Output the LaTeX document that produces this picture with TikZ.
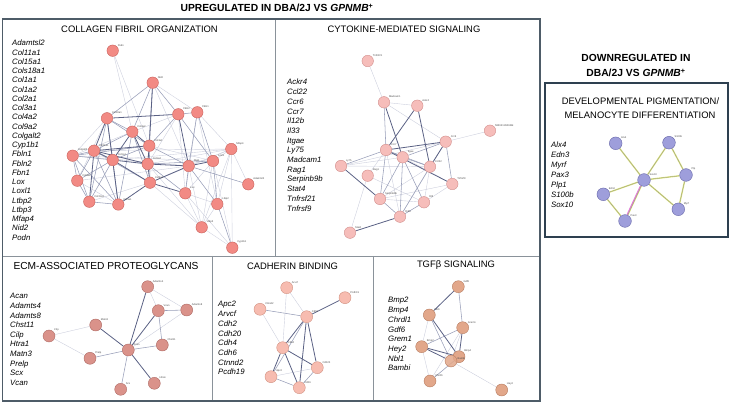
\documentclass[tikz,border=0pt]{standalone}
\usepackage{fontspec}
\setmainfont{Liberation Sans}
\usetikzlibrary{backgrounds}
\definecolor{framec}{HTML}{4E5C68}
\definecolor{divc}{HTML}{8A929A}
\definecolor{boxc}{HTML}{2E4050}
\definecolor{eL}{HTML}{CDCFDD}
\definecolor{eM}{HTML}{989EB8}
\definecolor{eD}{HTML}{5A6184}
\definecolor{cF}{HTML}{F28A84}\definecolor{cB}{HTML}{C8625C}
\definecolor{kF}{HTML}{F6BDBA}\definecolor{kB}{HTML}{D28E8C}
\definecolor{mF}{HTML}{DA928A}\definecolor{mB}{HTML}{AE6A64}
\definecolor{dF}{HTML}{F7BCB0}\definecolor{dB}{HTML}{D29282}
\definecolor{tF}{HTML}{E2A78A}\definecolor{tB}{HTML}{B67C60}
\definecolor{pF}{HTML}{9E9EDB}\definecolor{pB}{HTML}{6767A8}
\definecolor{yg}{HTML}{DCE37E}
\definecolor{pk}{HTML}{E27CD6}
\tikzset{
  frame/.style={draw=framec, line width=1.3pt},
  divider/.style={draw=divc, line width=0.9pt},
  dbox/.style={draw=boxc, line width=1.1pt},
  maintitle/.style={font=\fontsize{10.3}{12}\selectfont\bfseries, inner sep=0},
  ptitle/.style={font=\fontsize{9.4}{11}\selectfont, inner sep=0},
  gene/.style={font=\fontsize{7.8}{9}\selectfont\itshape, anchor=west, inner sep=0, text height=5.5pt, text depth=1.5pt},
  lab/.style={font=\fontsize{2.6}{3}\selectfont, text=black!70, inner sep=0.3pt},
  gn/.style={circle, inner sep=0, line width=0.4pt},
  cn/.style={gn, minimum size=11.5pt, fill=cF, draw=cB},
  kn/.style={gn, minimum size=11.5pt, fill=kF, draw=kB},
  mn/.style={gn, minimum size=12pt, fill=mF, draw=mB},
  dn/.style={gn, minimum size=12pt, fill=dF, draw=dB},
  tn/.style={gn, minimum size=12pt, fill=tF, draw=tB},
  pn/.style={gn, minimum size=12.7pt, fill=pF, draw=pB},
  eLs/.style={draw=eL, line width=0.4pt},
  eMs/.style={draw=eM, line width=0.55pt},
  eDs/.style={draw=eD, line width=0.8pt},
  ygs/.style={draw=yg, line width=1.4pt},
  pks/.style={draw=pk, line width=1.1pt},
  gls/.style={draw=black!45, line width=0.25pt},
}
\begin{document}
\begin{tikzpicture}[x=1pt, y=-1pt]
\useasboundingbox (0,0) rectangle (729,403);

% frames
\draw[divider] (2.5,256) -- (540,256);
\draw[divider] (275,19) -- (275,256);
\draw[divider] (212,256) -- (212,401);
\draw[divider] (373,256) -- (373,401);
\draw[frame] (2.5,19) rectangle (540,401);
\draw[dbox] (545,83) rectangle (728,237);

% titles
\node[maintitle] (mt) at (277,8) {UPREGULATED IN DBA/2J VS \textit{GPNMB}\textsuperscript{+}};
\node[maintitle] (dt1) at (636,58) {DOWNREGULATED IN};
\node[maintitle] (dt2) at (636,73) {DBA/2J VS \textit{GPNMB}\textsuperscript{+}};
\node[ptitle] (tcol) at (139.5,29) {COLLAGEN FIBRIL ORGANIZATION};
\node[ptitle] (tcyt) at (404,29) {CYTOKINE-MEDIATED SIGNALING};
\node[ptitle, font=\fontsize{10.2}{12}\selectfont] (tecm) at (106,266) {ECM-ASSOCIATED PROTEOGLYCANS};
\node[ptitle] (tcad) at (292.5,266) {CADHERIN BINDING};
\node[ptitle] (ttgf) at (456,265) {TGFβ SIGNALING};
\node[ptitle] (tdev1) at (640.5,101) {DEVELOPMENTAL PIGMENTATION/};
\node[ptitle] (tdev2) at (640,115) {MELANOCYTE DIFFERENTIATION};

% gene lists
\foreach \g [count=\i from 0] in {Adamtsl2,Col11a1,Col15a1,Cols18a1,Col1a1,Col1a2,Col2a1,Col3a1,Col4a2,Col9a2,Colgalt2,Cyp1b1,Fbln1,Fbln2,Fbn1,Lox,Loxl1,Ltbp2,Ltbp3,Mfap4,Nid2,Podn}
  \node[gene] (gc\i) at (12,{44+\i*9.24}) {\g};
\foreach \g [count=\i from 0] in {Ackr4,Ccl22,Ccr6,Ccr7,Il12b,Il33,Itgae,Ly75,Madcam1,Rag1,Serpinb9b,Stat4,Tnfrsf21,Tnfrsf9}
  \node[gene] (gk\i) at (287,{83+\i*9.7}) {\g};
\foreach \g [count=\i from 0] in {Acan,Adamts4,Adamts8,Chst11,Cilp,Htra1,Matn3,Prelp,Scx,Vcan}
  \node[gene] (gm\i) at (10,{297+\i*9.6}) {\g};
\foreach \g [count=\i from 0] in {Apc2,Arvcf,Cdh2,Cdh20,Cdh4,Cdh6,Ctnnd2,Pcdh19}
  \node[gene] (gd\i) at (218,{305+\i*9.7}) {\g};
\foreach \g [count=\i from 0] in {Bmp2,Bmp4,Chrdl1,Gdf6,Grem1,Hey2,Nbl1,Bambi}
  \node[gene] (gt\i) at (388,{301+\i*9.7}) {\g};
\foreach \g [count=\i from 0] in {Alx4,Edn3,Myrf,Pax3,Plp1,S100b,Sox10}
  \node[gene] (gp\i) at (551,{146+\i*10}) {\g};

% collagen network nodes
\node[cn, label={[lab]40:Podn}] (c1) at (112.7,50.7) {};
\node[cn, label={[lab]40:Nid2}] (c2) at (152.7,82.7) {};
\node[cn, label={[lab]40:Col18a1}] (c3) at (107,118.3) {};
\node[cn, label={[lab]40:Fbln2}] (c4) at (178.3,114.3) {};
\node[cn, label={[lab]40:Fbln1}] (c5) at (197.3,112.3) {};
\node[cn, label={[lab]40:Col4a2}] (c6) at (132.3,131.7) {};
\node[cn, label={[lab]40:Col3a1}] (c7) at (149.3,145.7) {};
\node[cn, label={[lab]40:Col11a1}] (c8) at (94,150.7) {};
\node[cn, label={[lab]40:Col1a1}] (c9) at (112.7,160) {};
\node[cn, label={[lab]40:Col1a2}] (c10) at (147.7,164) {};
\node[cn, label={[lab]40:Fbn1}] (c11) at (188.7,166) {};
\node[cn, label={[lab]40:Loxl1}] (c12) at (213,161) {};
\node[cn, label={[lab]40:Mfap4}] (c13) at (231.3,149) {};
\node[cn, label={[lab]40:Col2a1}] (c14) at (150,182.7) {};
\node[cn, label={[lab]40:Adamtsl2}] (c15) at (248.3,184.3) {};
\node[cn, label={[lab]40:Lox}] (c16) at (185.3,193.3) {};
\node[cn, label={[lab]40:Ltbp2}] (c17) at (217.3,204) {};
\node[cn, label={[lab]40:Ltbp3}] (c18) at (201.7,227.3) {};
\node[cn, label={[lab]40:Cyp1b1}] (c19) at (232.3,247.7) {};
\node[cn, label={[lab]40:Col9a2}] (c20) at (77.3,180.7) {};
\node[cn, label={[lab]40:Col15a1}] (c21) at (89.3,201.7) {};
\node[cn, label={[lab]40:Col5a1}] (c22) at (118.3,204.5) {};
\node[cn, label={[lab]40:Colgalt2}] (c23) at (72.7,155.7) {};

% cytokine nodes
\node[kn, label={[lab]40:Tnfrsf21}] (k1) at (367.7,61) {};
\node[kn, label={[lab]40:Madcam1}] (k2) at (384,102.3) {};
\node[kn, label={[lab]40:Ackr4}] (k3) at (417.3,105.7) {};
\node[kn, label={[lab]40:5830411N06Rik}] (k4) at (490,130.7) {};
\node[kn, label={[lab]40:Ccr6}] (k5) at (445.7,141.7) {};
\node[kn, label={[lab]40:Ccr7}] (k6) at (386,150) {};
\node[kn, label={[lab]40:Itgae}] (k7) at (402.7,157.3) {};
\node[kn, label={[lab]40:Ly75}] (k8) at (341,166) {};
\node[kn, label={[lab]40:Ccl22}] (k9) at (430,166.7) {};
\node[kn, label={[lab]40:Rag1}] (k10) at (367.7,175.7) {};
\node[kn, label={[lab]40:Tnfrsf9}] (k11) at (452.3,184) {};
\node[kn, label={[lab]40:Serpinb9b}] (k12) at (380,199) {};
\node[kn, label={[lab]40:Il33}] (k13) at (424,202.3) {};
\node[kn, label={[lab]40:Il12b}] (k14) at (400,216.7) {};
\node[kn, label={[lab]40:Stat4}] (k15) at (350,232.7) {};

% ECM nodes
\node[mn, label={[lab]40:Adamts4}] (m1) at (147.7,286.7) {};
\node[mn, label={[lab]40:Vcan}] (m2) at (158.3,310.7) {};
\node[mn, label={[lab]40:Adamts8}] (m3) at (186.7,310) {};
\node[mn, label={[lab]40:Matn3}] (m4) at (95.7,325) {};
\node[mn, label={[lab]40:Cilp}] (m5) at (49,336) {};
\node[mn, label={[lab]40:Chst11}] (m6) at (162.3,345) {};
\node[mn, label={[lab]40:Acan}] (m7) at (128.3,350) {};
\node[mn, label={[lab]40:Prelp}] (m8) at (90,358.3) {};
\node[mn, label={[lab]40:Htra1}] (m9) at (154.3,383.3) {};
\node[mn, label={[lab]40:Scx}] (m10) at (120.7,389.3) {};

% cadherin nodes
\node[dn, label={[lab]40:Arvcf}] (d1) at (286.7,287.7) {};
\node[dn, label={[lab]40:Pcdh19}] (d2) at (345,297.7) {};
\node[dn, label={[lab]40:Ctnnd2}] (d3) at (260,309.3) {};
\node[dn, label={[lab]40:Cdh2}] (d4) at (306.7,316.7) {};
\node[dn, label={[lab]40:Cdh4}] (d5) at (282.7,347.7) {};
\node[dn, label={[lab]40:Cdh20}] (d6) at (317.3,367.7) {};
\node[dn, label={[lab]40:Apc2}] (d7) at (271,376.7) {};
\node[dn, label={[lab]40:Cdh6}] (d8) at (299.3,387.7) {};

% TGF nodes
\node[tn, label={[lab]40:Gdf6}] (t1) at (458.3,286.7) {};
\node[tn, label={[lab]40:Nbl1}] (t2) at (429.3,315) {};
\node[tn, label={[lab]40:Grem1}] (t3) at (462.7,327.7) {};
\node[tn, label={[lab]40:Bmp2}] (t4) at (421.7,346.7) {};
\node[tn, label={[lab]40:Bmp4}] (t5) at (459,356.7) {};
\node[tn, fill opacity=0.85, label={[lab]10:Bambi}] (t6) at (451,361) {};
\node[tn, label={[lab]40:Chrdl1}] (t7) at (430,381) {};
\node[tn, label={[lab]40:Hey2}] (t8) at (501.7,390) {};

% pigmentation nodes
\node[pn, label={[lab]40:Alx4}] (p1) at (615.7,143.3) {};
\node[pn, label={[lab]40:S100b}] (p2) at (669,142.7) {};
\node[pn, label={[lab]40:Plp}] (p3) at (686,175) {};
\node[pn, label={[lab]40:Sox10}] (p4) at (644,180) {};
\node[pn, label={[lab]40:Edn3}] (p5) at (603.3,194.3) {};
\node[pn, label={[lab]40:Myrf}] (p6) at (678.3,209.3) {};
\node[pn, label={[lab]40:Pax3}] (p7) at (625,221) {};

\begin{pgfonlayer}{background}
% collagen edges
\foreach \a/\b in {c1/c6,c1/c7,c2/c11,c2/c5,c3/c20,c4/c10,c4/c16,c4/c6,c5/c13,c5/c16,c5/c17,c7/c12,c10/c13,c11/c13,c12/c13,c12/c16,c13/c15,c13/c17,c13/c14,c14/c21,c14/c18,c16/c18,c16/c17,c17/c18,c18/c19,c12/c18,c13/c18,c11/c18,c10/c18,c20/c22,c23/c3,c23/c6,c11/c23,c9/c13,c8/c13,c13/c19,c12/c19,c16/c19,c23/c12,c20/c11}
  \draw[eLs] (\a) -- (\b);
\foreach \a/\b in {c2/c3,c2/c6,c2/c10,c2/c4,c3/c6,c3/c7,c3/c21,c3/c22,c4/c5,c4/c7,c4/c12,c5/c11,c5/c12,c6/c8,c6/c14,c6/c22,c7/c11,c7/c9,c7/c14,c8/c23,c8/c20,c8/c22,c8/c14,c9/c20,c9/c21,c10/c12,c10/c16,c11/c16,c11/c17,c12/c17,c11/c15,c17/c19,c20/c23,c20/c21,c21/c22,c21/c23,c22/c23,c23/c9,c23/c7}
  \draw[eMs] (\a) -- (\b);
\foreach \a/\b in {c2/c7,c3/c4,c3/c8,c3/c9,c4/c11,c6/c7,c6/c9,c6/c10,c7/c10,c7/c8,c8/c9,c8/c10,c8/c21,c9/c10,c9/c14,c9/c22,c10/c11,c10/c14,c11/c12,c11/c14,c14/c16,c14/c22}
  \draw[eDs] (\a) -- (\b);
% cytokine edges
\foreach \a/\b in {k1/k2,k2/k3,k2/k5,k4/k5,k5/k8,k5/k14,k6/k14,k7/k8,k7/k11,k8/k9,k10/k13,k10/k15,k10/k6,k9/k13,k9/k12,k11/k13,k11/k12,k12/k13}
  \draw[eLs] (\a) -- (\b);
\foreach \a/\b in {k2/k6,k5/k7,k5/k11,k6/k7,k6/k8,k6/k9,k6/k12,k7/k9,k7/k13,k7/k12,k7/k14,k9/k14,k12/k14,k13/k14}
  \draw[eMs] (\a) -- (\b);
\foreach \a/\b in {k2/k7,k3/k6,k3/k9,k5/k6,k5/k9,k6/k11,k8/k12,k14/k15}
  \draw[eDs] (\a) -- (\b);
% ECM edges
\foreach \a/\b in {m1/m2,m1/m3,m3/m7,m4/m5,m5/m8}
  \draw[eLs] (\a) -- (\b);
\foreach \a/\b in {m2/m3,m2/m6,m6/m7,m8/m7,m7/m10}
  \draw[eMs] (\a) -- (\b);
\foreach \a/\b in {m1/m7,m2/m7,m4/m7,m7/m9}
  \draw[eDs] (\a) -- (\b);
% cadherin edges
\foreach \a/\b in {d1/d4,d1/d5,d3/d5,d6/d7}
  \draw[eLs] (\a) -- (\b);
\foreach \a/\b in {d3/d4,d4/d7,d6/d8,d7/d8}
  \draw[eMs] (\a) -- (\b);
\foreach \a/\b in {d2/d4,d4/d5,d4/d6,d4/d8,d5/d6,d5/d7,d5/d8}
  \draw[eDs] (\a) -- (\b);
% TGF edges
\foreach \a/\b in {t2/t4,t3/t7,t4/t7,t6/t8,t3/t6}
  \draw[eLs] (\a) -- (\b);
\foreach \a/\b in {t1/t3,t3/t4,t5/t7,t2/t6}
  \draw[eMs] (\a) -- (\b);
\foreach \a/\b in {t1/t2,t2/t5,t3/t5,t4/t5,t4/t6}
  \draw[eDs] (\a) -- (\b);
% pigmentation edges
\foreach \a/\b in {p1/p4,p2/p4,p2/p3,p3/p4,p3/p6,p4/p6,p4/p5,p5/p7,p4/p7}
  \draw[ygs] (\a) -- (\b);
\draw[pks, transform canvas={shift={(-0.7pt,0.3pt)}}] (p4) -- (p7);
\foreach \a/\b in {p1/p4,p2/p4,p2/p3,p3/p4,p3/p6,p4/p6,p4/p5,p5/p7,p4/p7}
  \draw[gls] (\a) -- (\b);
\end{pgfonlayer}
\end{tikzpicture}
\end{document}
